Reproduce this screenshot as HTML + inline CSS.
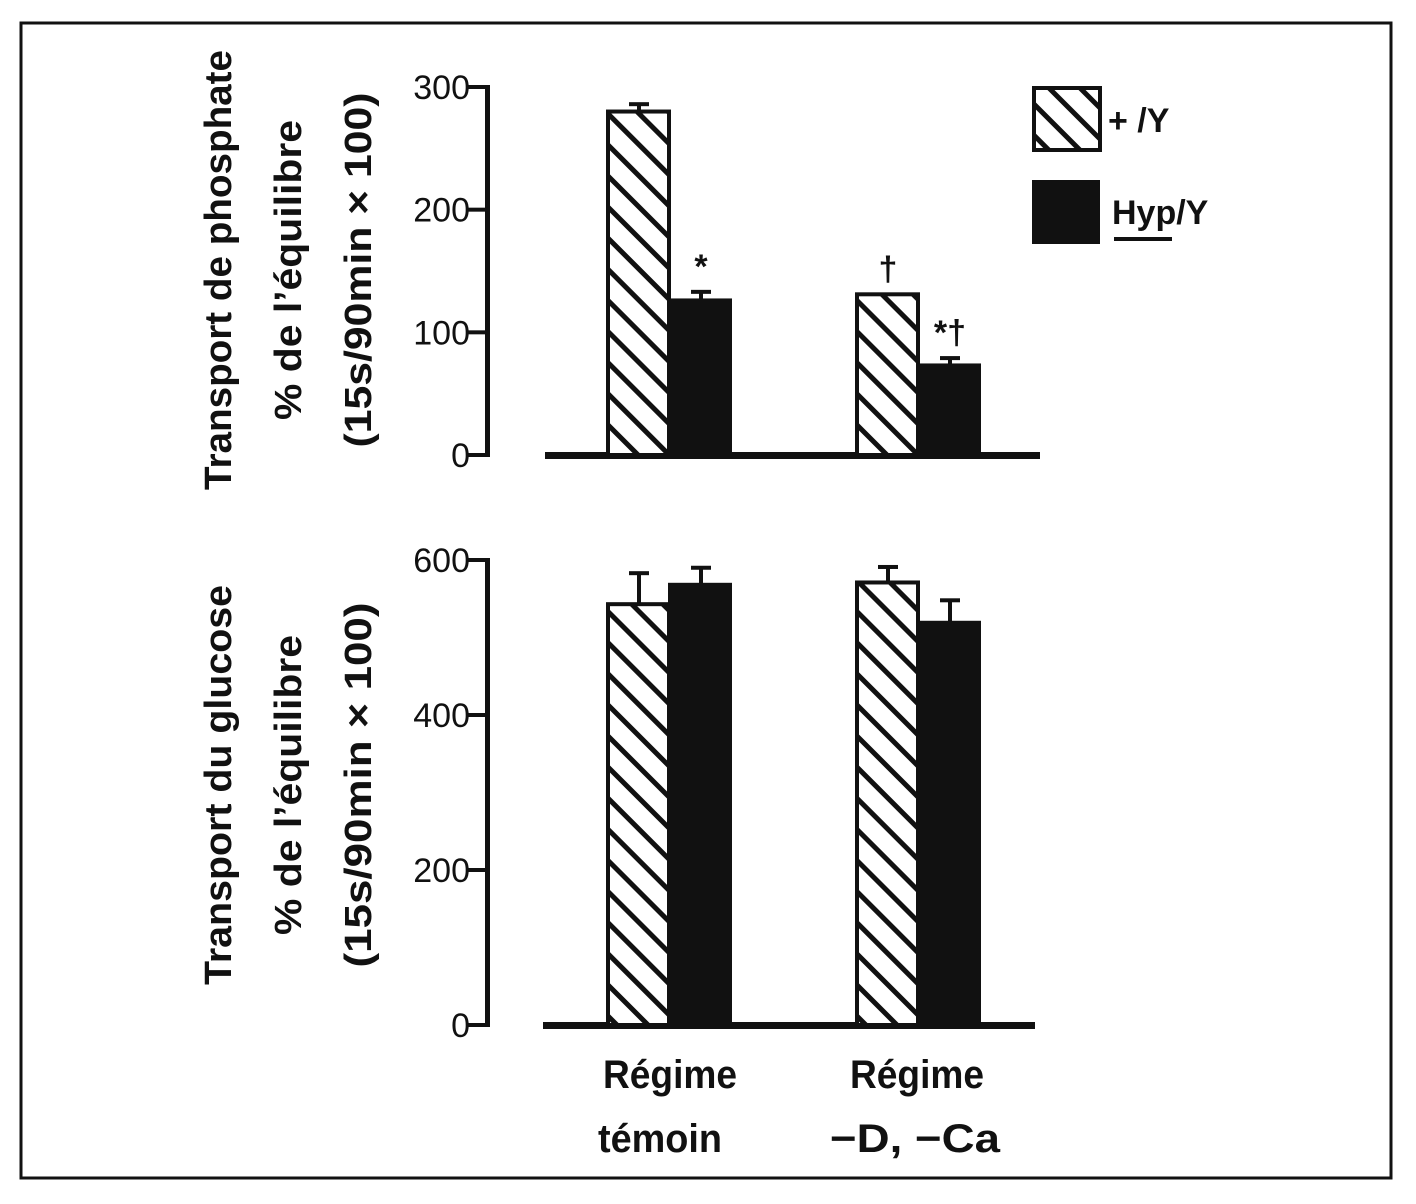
<!DOCTYPE html>
<html><head><meta charset="utf-8"><style>
body{margin:0;background:#fff;}
svg{display:block;font-family:"Liberation Sans",sans-serif;font-weight:bold;}
</style></head><body>
<svg id="chart" width="1416" height="1204" viewBox="0 0 1416 1204">
<defs>
<pattern id="hatch" patternUnits="userSpaceOnUse" width="22" height="22" patternTransform="rotate(45)">
<rect width="22" height="22" fill="#fff"/>
<rect x="0" y="0" width="22" height="5" fill="#111"/>
</pattern>
</defs>
<rect x="21" y="23" width="1370" height="1155" fill="none" stroke="#111" stroke-width="3"/>
<g id="top"></g>
<g id="bot"></g>
<g>
<rect x="1034" y="88" width="66" height="62" fill="url(#hatch)" stroke="#111" stroke-width="4"/>
<text x="1108" y="132" font-size="34" fill="#111">+ /Y</text>
<rect x="1032" y="180" width="68" height="64" fill="#111"/>
<text x="1112" y="224" font-size="34" fill="#111">Hyp/Y</text>
<rect x="1114" y="237" width="58" height="4" fill="#111"/>
</g>
<g font-size="40" fill="#111" text-anchor="middle">
<text x="670" y="1088" textLength="134" lengthAdjust="spacingAndGlyphs">Régime</text>
<text x="660" y="1152" textLength="124" lengthAdjust="spacingAndGlyphs">témoin</text>
<text x="917" y="1088" textLength="134" lengthAdjust="spacingAndGlyphs">Régime</text>
<text x="915" y="1152" textLength="170" lengthAdjust="spacingAndGlyphs">−D, −Ca</text>
</g>
</svg>
<script>
const groups=["Régime témoin","Régime −D, −Ca"];
const phosWT=[280,131];
const phosWTerr=[6,0];
const phosHyp=[126,73];
const phosHypErr=[7,6];
const phosTicks=[0,100,200,300];
const phosNotes=[["","*"],["†","*†"]];
const gluWT=[543,571];
const gluWTerr=[40,20];
const gluHyp=[568,519];
const gluHypErr=[22,29];
const gluTicks=[0,200,400,600];
const NS="http://www.w3.org/2000/svg";
function mk(parent,tag,attrs,name){const e=document.createElementNS(NS,tag);for(const k in attrs)e.setAttribute(k,attrs[k]);


parent.appendChild(e);return e;}
function draw(g,cfg){
 const y=v=>cfg.y0-(v-0)*(cfg.y0-cfg.yTop)/cfg.max;
 mk(g,'rect',{x:485,y:y(cfg.max)-2,width:5,height:cfg.y0-y(cfg.max)+4,fill:'#111'},'y-axis-line');
 cfg.ticks.forEach(t=>{mk(g,'rect',{x:468,y:y(t)-2,width:20,height:4,fill:'#111'},'y-tick');
  const tx=mk(g,'text',{x:470,y:y(t)+12,'font-size':34,'text-anchor':'end',fill:'#111','font-weight':'normal'},'y-tick-label');tx.textContent=t;});
 mk(g,'rect',{x:cfg.bx0,y:cfg.y0-3,width:cfg.bx1-cfg.bx0,height:7,fill:'#111'},'baseline');
 const gx=[606,855];
 groups.forEach((gname,i)=>{
  const x=gx[i];
  const eb=(cx,v,e)=>{if(!e)return;mk(g,'rect',{x:cx-2,y:y(v+e),width:4,height:y(v)-y(v+e),fill:'#111'},'error-bar');
   mk(g,'rect',{x:cx-10,y:y(v+e)-2,width:20,height:4,fill:'#111'},'error-cap');};
  eb(x+33,cfg.wt[i],cfg.wtErr[i]);eb(x+95,cfg.hyp[i],cfg.hypErr[i]);
  mk(g,'rect',{x:x+2,y:y(cfg.wt[i]),width:61,height:cfg.y0-y(cfg.wt[i]),fill:'url(#hatch)',stroke:'#111','stroke-width':4},'bar-wt-'+i);
  mk(g,'rect',{x:x+62,y:y(cfg.hyp[i])-2,width:64,height:cfg.y0-y(cfg.hyp[i])+2,fill:'#111'},'bar-hyp-'+i);
  if(cfg.notes){const n=cfg.notes[i];
   if(n[0]){const t=mk(g,'text',{x:x+33,y:y(cfg.wt[i]+cfg.wtErr[i])-14,'font-size':34,'text-anchor':'middle',fill:'#111'},'significance-mark');t.textContent=n[0];}
   if(n[1]){const t=mk(g,'text',{x:x+95,y:y(cfg.hyp[i]+cfg.hypErr[i])-14,'font-size':34,'text-anchor':'middle',fill:'#111'},'significance-mark');t.textContent=n[1];}}
 });
 cfg.title.forEach((line,k)=>{const cx=[218,288,358][k];
  const t=mk(g,'text',{x:0,y:0,'font-size':38,'text-anchor':'middle',fill:'#111',transform:`translate(${cx+13},${cfg.tc}) rotate(-90)`,textLength:cfg.tl[k],lengthAdjust:'spacingAndGlyphs'},'y-axis-title');t.textContent=line;});
}
draw(document.getElementById('top'),{y0:455,yTop:87,max:300,ticks:phosTicks,bx0:545,bx1:1040,wt:phosWT,wtErr:phosWTerr,hyp:phosHyp,hypErr:phosHypErr,notes:phosNotes,
 title:["Transport de phosphate","% de l’équilibre","(15s/90min × 100)"],tc:270,tl:[440,300,355]});
draw(document.getElementById('bot'),{y0:1025,yTop:560,max:600,ticks:gluTicks,bx0:543,bx1:1035,wt:gluWT,wtErr:gluWTerr,hyp:gluHyp,hypErr:gluHypErr,notes:null,
 title:["Transport du glucose","% de l’équilibre","(15s/90min × 100)"],tc:785,tl:[400,300,365]});
</script>
</body></html>
